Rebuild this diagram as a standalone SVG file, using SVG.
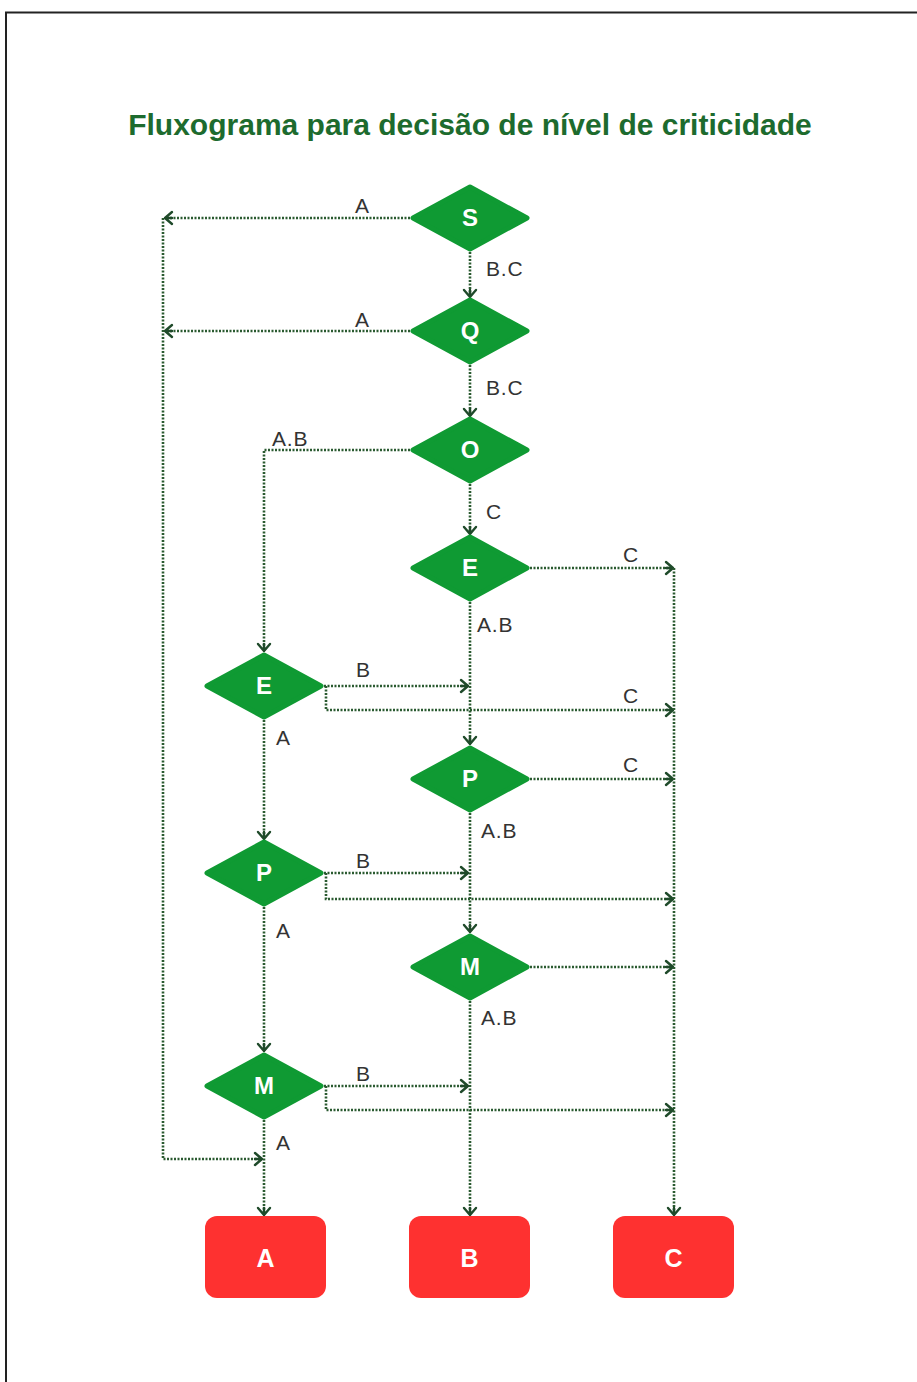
<svg xmlns="http://www.w3.org/2000/svg" width="917" height="1382" viewBox="0 0 917 1382">
  <defs>
    <style>
      .title { font-family: "Liberation Sans", Arial, sans-serif; font-weight: bold; font-size: 30px; fill: #1d6b2e; }
      .dia { fill: #0f9a33; stroke: #0f9a33; stroke-width: 5; stroke-linejoin: round; }
      .dlbl { font-family: "Liberation Sans", Arial, sans-serif; font-weight: bold; font-size: 24px; fill: #ffffff; text-anchor: middle; }
      .box { fill: #fe3130; }
      .blbl { font-family: "Liberation Sans", Arial, sans-serif; font-weight: bold; font-size: 25px; fill: #ffffff; text-anchor: middle; }
      .conn { fill: none; stroke: #2a5a30; stroke-width: 2.6; stroke-dasharray: 2 1.5; }
      .arr { fill: none; stroke: #1f4a2a; stroke-width: 2.4; stroke-linecap: round; stroke-linejoin: round; }
      .clbl { font-family: "Liberation Sans", Arial, sans-serif; font-size: 21px; letter-spacing: 0.8px; fill: #333333; }
    </style>
    <marker id="head" markerUnits="userSpaceOnUse" markerWidth="14" markerHeight="16" viewBox="-10 -8 12 16" refX="0" refY="0" orient="auto">
      <path class="arr" d="M-7,-6 L0,0 L-7,6 M-7,0 L0,0"/>
    </marker>
  </defs>

  <rect width="917" height="1382" fill="#ffffff"/>
  <!-- page frame -->
  <path d="M6,1382 V12.5 H917" fill="none" stroke="#222222" stroke-width="2"/>

  <text class="title" x="470" y="135" text-anchor="middle">Fluxograma para decisão de nível de criticidade</text>

  <!-- connectors -->
  <g id="connectors">
    <path class="conn" d="M410,218 H165" marker-end="url(#head)"/>
    <path class="conn" d="M410,331 H165" marker-end="url(#head)"/>
    <path class="conn" d="M163,218 V1159 H262" marker-end="url(#head)"/>
    <path class="conn" d="M470,252 V297" marker-end="url(#head)"/>
    <path class="conn" d="M470,365 V416" marker-end="url(#head)"/>
    <path class="conn" d="M410,450 H264 V651" marker-end="url(#head)"/>
    <path class="conn" d="M470,484 V534" marker-end="url(#head)"/>
    <path class="conn" d="M530,568 H673" marker-end="url(#head)"/>
    <path class="conn" d="M470,602 V744" marker-end="url(#head)"/>
    <path class="conn" d="M324,686 H468" marker-end="url(#head)"/>
    <path class="conn" d="M326,686 V710 H673" marker-end="url(#head)"/>
    <path class="conn" d="M264,720 V839" marker-end="url(#head)"/>
    <path class="conn" d="M530,779 H673" marker-end="url(#head)"/>
    <path class="conn" d="M470,813 V932" marker-end="url(#head)"/>
    <path class="conn" d="M324,873 H468" marker-end="url(#head)"/>
    <path class="conn" d="M326,873 V899 H673" marker-end="url(#head)"/>
    <path class="conn" d="M264,907 V1051" marker-end="url(#head)"/>
    <path class="conn" d="M530,967 H673" marker-end="url(#head)"/>
    <path class="conn" d="M470,1001 V1215" marker-end="url(#head)"/>
    <path class="conn" d="M324,1086 H468" marker-end="url(#head)"/>
    <path class="conn" d="M326,1086 V1110 H673" marker-end="url(#head)"/>
    <path class="conn" d="M264,1120 V1215" marker-end="url(#head)"/>
    <path class="conn" d="M674,568 V1215" marker-end="url(#head)"/>

    <text class="clbl" x="355" y="213">A</text>
    <text class="clbl" x="486" y="276">B.C</text>
    <text class="clbl" x="355" y="327">A</text>
    <text class="clbl" x="486" y="395">B.C</text>
    <text class="clbl" x="272" y="446">A.B</text>
    <text class="clbl" x="486" y="519">C</text>
    <text class="clbl" x="623" y="562">C</text>
    <text class="clbl" x="477" y="632">A.B</text>
    <text class="clbl" x="356" y="677">B</text>
    <text class="clbl" x="623" y="703">C</text>
    <text class="clbl" x="276" y="745">A</text>
    <text class="clbl" x="623" y="772">C</text>
    <text class="clbl" x="481" y="838">A.B</text>
    <text class="clbl" x="356" y="868">B</text>
    <text class="clbl" x="276" y="938">A</text>
    <text class="clbl" x="481" y="1025">A.B</text>
    <text class="clbl" x="356" y="1081">B</text>
    <text class="clbl" x="276" y="1150">A</text>
  </g>

  <!-- decision nodes -->
  <g id="node-s"><polygon class="dia" points="470,187 527,218 470,249 413,218"/><text class="dlbl" x="470" y="226">S</text></g>
  <g id="node-q"><polygon class="dia" points="470,300 527,331 470,362 413,331"/><text class="dlbl" x="470" y="339">Q</text></g>
  <g id="node-o"><polygon class="dia" points="470,419 527,450 470,481 413,450"/><text class="dlbl" x="470" y="458">O</text></g>
  <g id="node-e1"><polygon class="dia" points="470,537 527,568 470,599 413,568"/><text class="dlbl" x="470" y="576">E</text></g>
  <g id="node-e2"><polygon class="dia" points="264,655 321,686 264,717 207,686"/><text class="dlbl" x="264" y="694">E</text></g>
  <g id="node-p1"><polygon class="dia" points="470,748 527,779 470,810 413,779"/><text class="dlbl" x="470" y="787">P</text></g>
  <g id="node-p2"><polygon class="dia" points="264,842 321,873 264,904 207,873"/><text class="dlbl" x="264" y="881">P</text></g>
  <g id="node-m1"><polygon class="dia" points="470,936 527,967 470,998 413,967"/><text class="dlbl" x="470" y="975">M</text></g>
  <g id="node-m2"><polygon class="dia" points="264,1055 321,1086 264,1117 207,1086"/><text class="dlbl" x="264" y="1094">M</text></g>

  <!-- outcome nodes -->
  <g id="result-a"><rect class="box" x="205" y="1216" width="121" height="82" rx="12"/><text class="blbl" x="265.5" y="1267">A</text></g>
  <g id="result-b"><rect class="box" x="409" y="1216" width="121" height="82" rx="12"/><text class="blbl" x="469.5" y="1267">B</text></g>
  <g id="result-c"><rect class="box" x="613" y="1216" width="121" height="82" rx="12"/><text class="blbl" x="673.5" y="1267">C</text></g>
</svg>
